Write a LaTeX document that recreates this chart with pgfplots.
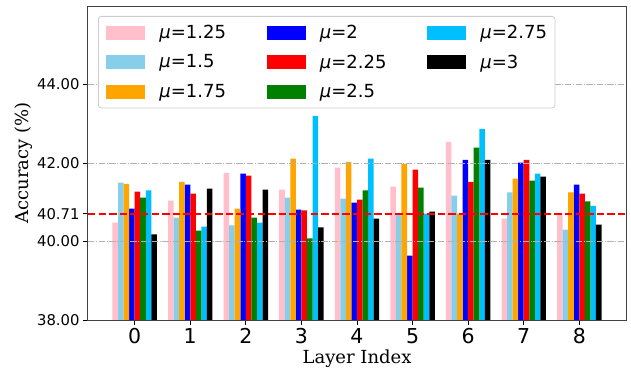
\documentclass[border=0pt]{standalone}
\usepackage{fontspec}
\setmainfont{DejaVu Sans}
\newfontfamily\seriffont{DejaVu Serif}
\usepackage{pgfplots}
\usepackage{pgfplotstable}
\pgfplotsset{compat=1.18}
\definecolor{cpink}{HTML}{FFC0CB}
\definecolor{cskyblue}{HTML}{87CEEB}
\definecolor{corange}{HTML}{FFA500}
\definecolor{cblue}{HTML}{0000FF}
\definecolor{cred}{HTML}{FF0000}
\definecolor{cgreen}{HTML}{008000}
\definecolor{cdeep}{HTML}{00BFFF}
\definecolor{gridc}{HTML}{B0B0B0}
\pgfplotstableread{
x  m125  m150  m175  m200  m225  m250  m275  m300
0 40.48 41.50 41.47 40.84 41.27 41.12 41.30 40.18
1 41.04 40.61 41.52 41.45 41.22 40.28 40.38 41.35
2 41.75 40.41 40.84 41.73 41.68 40.61 40.48 41.32
3 41.32 41.12 42.11 40.81 40.79 40.08 43.20 40.36
4 41.88 41.09 42.03 40.99 41.07 41.30 42.11 40.58
5 41.40 40.71 41.98 39.64 41.83 41.37 40.71 40.76
6 42.54 41.17 40.71 42.08 41.52 42.39 42.87 42.08
7 40.58 41.25 41.60 42.01 42.08 41.55 41.73 41.65
8 40.71 40.30 41.25 41.45 41.22 41.02 40.91 40.43
}\datatable
\pgfplotsset{
  patchlegend/.style={legend image code/.code={\fill[##1, draw=none, sharp corners] (0bp,-7bp) rectangle (39bp,7bp);}},
  mybar/.style 2 args={ybar, bar width=0.1, bar shift=#1, fill=#2, draw=none, patchlegend},
}
\newcommand{\lentry}[1]{\hspace*{14bp}\makebox[93.5bp][l]{\textit{μ}=#1}}
\newcommand{\lentrylast}[1]{\hspace*{14bp}\textit{μ}=#1}
\begin{document}
\begin{tikzpicture}
\path[use as bounding box] (-88bp,-51bp) rectangle (543bp,320bp);
\begin{axis}[
  scale only axis, width=538bp, height=314bp,
  xmin=-0.84, xmax=8.84, ymin=38, ymax=46,
  xtick={0,...,8}, ytick={38,40,40.71,42,44},
  tick align=outside, tick pos=left,
  major tick length=5bp,
  every tick/.style={black, line width=0.8bp},
  axis line style={black!75, line width=1bp},
  /pgf/number format/assume math mode=true,
  yticklabel style={/pgf/number format/.cd, fixed, fixed zerofill, precision=2, /tikz/.cd, font=\fontsize{14.8bp}{16bp}\selectfont},
  xticklabel style={font=\fontsize{20.5bp}{22bp}\selectfont},
  xlabel={Layer Index}, ylabel={Accuracy (\%)},
  label style={font=\seriffont\fontsize{18bp}{20bp}\selectfont},
  xlabel style={at={(axis description cs:0.5,0)}, anchor=base, yshift=-43bp},
  ylabel style={at={(axis description cs:-0.1115,0.5)}, anchor=base},
  legend columns=3,
  legend cell align=left,
  legend style={at={(0.0186,0.9682)}, anchor=north west, draw=black!20, line width=0.8bp, rounded corners=3bp, fill=white, inner xsep=8bp, inner ysep=9bp, nodes={inner sep=0pt}, row sep=14.5bp, column sep=0pt, /tikz/every even column/.append style={column sep=14bp}, font=\fontsize{18bp}{20bp}\selectfont},
]
\addplot[mybar={-0.35}{cpink}] table[x=x,y=m125]{\datatable}; \addlegendentry{\lentry{1.25}}
\addplot[mybar={-0.05}{cblue}] table[x=x,y=m200]{\datatable}; \addlegendentry{\lentry{2}}
\addplot[mybar={0.25}{cdeep}] table[x=x,y=m275]{\datatable}; \addlegendentry{\lentrylast{2.75}}
\addplot[mybar={-0.25}{cskyblue}] table[x=x,y=m150]{\datatable}; \addlegendentry{\lentry{1.5}}
\addplot[mybar={0.05}{cred}] table[x=x,y=m225]{\datatable}; \addlegendentry{\lentry{2.25}}
\addplot[mybar={0.35}{black}] table[x=x,y=m300]{\datatable}; \addlegendentry{\lentrylast{3}}
\addplot[mybar={-0.15}{corange}] table[x=x,y=m175]{\datatable}; \addlegendentry{\lentry{1.75}}
\addplot[mybar={0.15}{cgreen}] table[x=x,y=m250]{\datatable}; \addlegendentry{\lentry{2.5}}
\addplot[gridc, line width=1bp, dash pattern=on 6.4bp off 1.6bp on 1bp off 1.6bp, forget plot] coordinates {(-0.84,40) (8.84,40)};
\addplot[gridc, line width=1bp, dash pattern=on 6.4bp off 1.6bp on 1bp off 1.6bp, forget plot] coordinates {(-0.84,42) (8.84,42)};
\addplot[gridc, line width=1bp, dash pattern=on 6.4bp off 1.6bp on 1bp off 1.6bp, forget plot] coordinates {(-0.84,44) (8.84,44)};
\addplot[cred, line width=2bp, dash pattern=on 7.4bp off 3.2bp, forget plot] coordinates {(-0.84,40.71) (8.84,40.71)};
\end{axis}
\end{tikzpicture}
\end{document}
